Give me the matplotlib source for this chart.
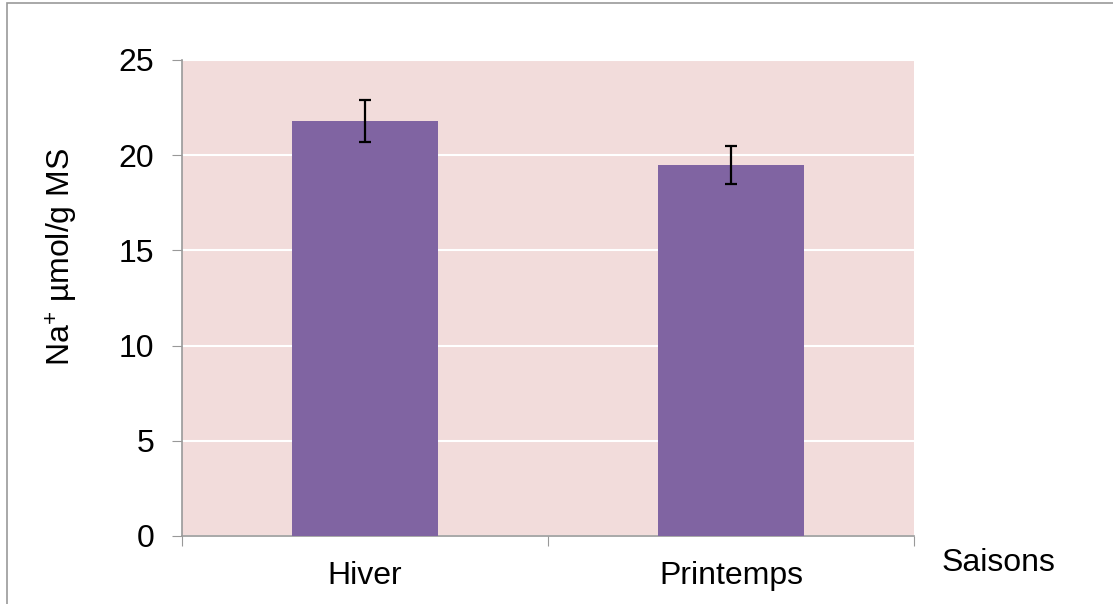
import matplotlib
matplotlib.use("Agg")
import matplotlib.pyplot as plt
from matplotlib.patches import Rectangle

saisons = ["Hiver", "Printemps"]
na_moyenne = [21.8, 19.5]
na_erreur = [1.1, 1.0]
y_ticks = [0, 5, 10, 15, 20, 25]

plt.rcParams['font.family'] = ['Liberation Sans', 'DejaVu Sans']
plt.rcParams['mathtext.fontset'] = 'custom'
plt.rcParams['mathtext.rm'] = 'Liberation Sans'
plt.rcParams['mathtext.it'] = 'Liberation Sans'

fs = 23

fig = plt.figure(figsize=(11.13, 6.04), dpi=100)
ax = fig.add_axes([0.1635, 0.1126, 0.6577, 0.7881])

# outer chart frame (Excel style)
fig.patches.append(Rectangle((7 / 1113, -0.1), 1.2, 1 - 3 / 604 + 0.1,
                             transform=fig.transFigure, fill=False,
                             edgecolor='#999999', linewidth=1.2))

ax.set_facecolor('#F2DCDB')
x = range(len(saisons))
ax.bar(x, na_moyenne, width=0.4, color='#8064A2', zorder=3)
ax.errorbar(x, na_moyenne, yerr=na_erreur, fmt='none', ecolor='black',
            elinewidth=1.6, capsize=4.3, capthick=1.6, zorder=4)

ax.set_xlim(-0.5, 1.5)
ax.set_ylim(0, 25)
ax.set_yticks(y_ticks)
ax.set_yticklabels([str(v) for v in y_ticks], fontsize=fs)
ax.yaxis.grid(True, color='white', linewidth=1.5, zorder=1)
ax.set_axisbelow(True)

ax.set_xticks([-0.5, 0.5, 1.5])
ax.set_xticklabels([])
ax.set_xticks(list(x), minor=True)
ax.set_xticklabels(saisons, minor=True, fontsize=fs)
ax.tick_params(axis='x', which='minor', length=0, pad=18)
ax.tick_params(axis='x', which='major', length=7, color='#999999')
ax.tick_params(axis='y', length=7, color='#999999', pad=13)

for s in ['top', 'right']:
    ax.spines[s].set_visible(False)
for s in ['left', 'bottom']:
    ax.spines[s].set_color('#999999')
    ax.spines[s].set_linewidth(1.2)

fig.text(62 / 1113, 1 - 257 / 604, 'Na$^{+}$ µmol/g MS', fontsize=fs,
         rotation=90, ha='center', va='center')
fig.text(998 / 1113, 1 - 563 / 604, 'Saisons', fontsize=fs,
         ha='center', va='center')

fig.savefig('out.png', dpi=100)
